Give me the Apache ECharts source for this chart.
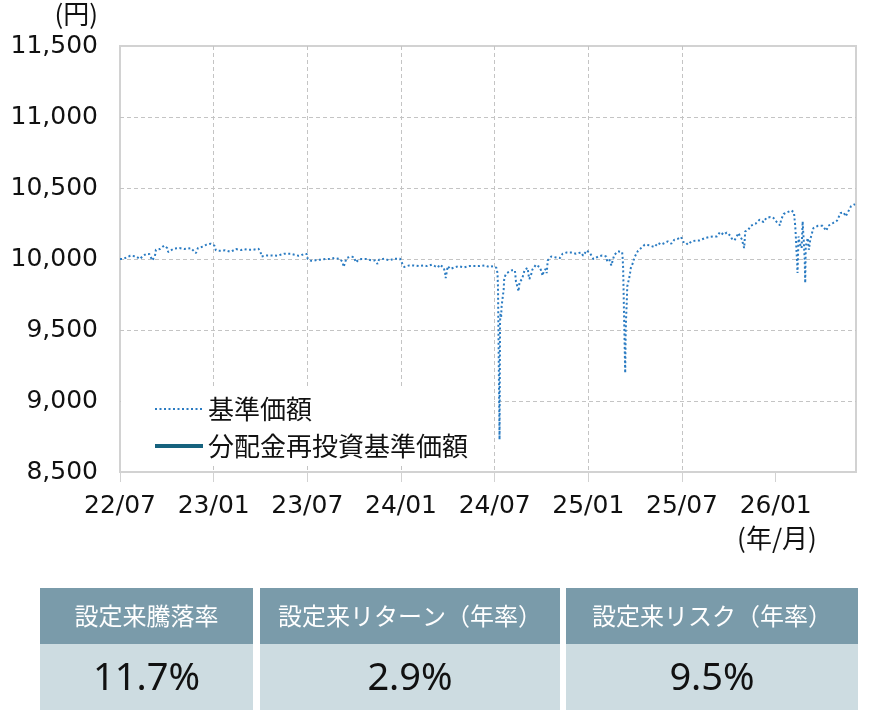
<!DOCTYPE html>
<html>
<head>
<meta charset="utf-8">
<script src="https://cdn.jsdelivr.net/npm/echarts@6/dist/echarts.min.js"></script>
<style>
html,body{margin:0;padding:0;background:#fff;}
#chart{width:870px;height:712px;}
</style>
</head>
<body>
<div id="chart"></div>
<script>
// ---- data ----
const seriesNames = ['基準価額', '分配金再投資基準価額'];
const xTickLabels = ['22/07', '23/01', '23/07', '24/01', '24/07', '25/01', '25/07', '26/01'];
const yTicks = [8500, 9000, 9500, 10000, 10500, 11000, 11500];
const startDate = '2022-07-27';
const endDate = '2026-07-01';
const dates = [
'2022-07-27','2022-08-02','2022-08-16','2022-08-27','2022-09-04','2022-09-10','2022-09-17','2022-09-22','2022-09-28','2022-10-03',
'2022-10-05','2022-10-13','2022-10-21','2022-10-27','2022-10-29','2022-11-08','2022-11-20','2022-11-29','2022-12-12','2022-12-22',
'2022-12-26','2023-01-04','2023-01-11','2023-01-20','2023-01-27','2023-01-30','2023-02-07','2023-02-17','2023-02-28','2023-03-10',
'2023-03-20','2023-03-26','2023-04-03','2023-04-12','2023-04-23','2023-04-27','2023-04-29','2023-05-09','2023-05-20','2023-05-31',
'2023-06-05','2023-06-12','2023-06-24','2023-07-02','2023-07-10','2023-07-15','2023-07-21','2023-07-26','2023-07-28','2023-08-03',
'2023-08-09','2023-08-16','2023-08-23','2023-09-01','2023-09-10','2023-09-18','2023-09-29','2023-10-04','2023-10-06','2023-10-09',
'2023-10-12','2023-10-19','2023-10-26','2023-10-30','2023-11-04','2023-11-10','2023-11-19','2023-11-30','2023-12-06','2023-12-11',
'2023-12-14','2023-12-24','2024-01-03','2024-01-12','2024-01-24','2024-01-26','2024-02-01','2024-02-11','2024-02-20','2024-03-01',
'2024-03-11','2024-03-17','2024-03-26','2024-04-01','2024-04-07','2024-04-10','2024-04-18','2024-04-21','2024-04-22','2024-04-26',
'2024-05-01','2024-05-09','2024-05-17','2024-05-28','2024-06-07','2024-06-17','2024-06-27','2024-07-07','2024-07-16','2024-07-24',
'2024-07-30','2024-08-01','2024-08-02','2024-08-05','2024-08-06','2024-08-07','2024-08-08','2024-08-09','2024-08-13','2024-08-14',
'2024-08-16','2024-08-19','2024-08-29','2024-09-04','2024-09-06','2024-09-09','2024-09-11','2024-09-13','2024-09-18','2024-09-23',
'2024-09-29','2024-09-30','2024-10-02','2024-10-05','2024-10-08','2024-10-15','2024-10-23','2024-10-28','2024-10-30','2024-11-03',
'2024-11-05','2024-11-07','2024-11-14','2024-11-23','2024-12-01','2024-12-06','2024-12-14','2024-12-24','2025-01-01','2025-01-11',
'2025-01-15','2025-01-22','2025-01-29','2025-02-04','2025-02-14','2025-02-21','2025-03-01','2025-03-03','2025-03-07','2025-03-11',
'2025-03-14','2025-03-17','2025-03-24','2025-04-01','2025-04-02','2025-04-03','2025-04-04','2025-04-07','2025-04-08','2025-04-09',
'2025-04-10','2025-04-11','2025-04-14','2025-04-16','2025-04-18','2025-04-22','2025-04-25','2025-04-28','2025-05-02','2025-05-08',
'2025-05-15','2025-05-24','2025-06-03','2025-06-10','2025-06-16','2025-06-23','2025-06-29','2025-07-06','2025-07-12','2025-07-19',
'2025-07-25','2025-07-29','2025-08-02','2025-08-07','2025-08-14','2025-08-24','2025-08-30','2025-09-02','2025-09-10','2025-09-18',
'2025-09-28','2025-10-03','2025-10-09','2025-10-16','2025-10-22','2025-10-29','2025-11-01','2025-11-06','2025-11-09','2025-11-14',
'2025-11-17','2025-11-21','2025-11-23','2025-11-25','2025-11-27','2025-12-03','2025-12-08','2025-12-17','2025-12-25','2026-01-02',
'2026-01-07','2026-01-15','2026-01-21','2026-01-28','2026-02-03','2026-02-05','2026-02-10','2026-02-16','2026-02-25','2026-03-02',
'2026-03-03','2026-03-04','2026-03-05','2026-03-06','2026-03-07','2026-03-08','2026-03-09','2026-03-11','2026-03-13','2026-03-17',
'2026-03-19','2026-03-20','2026-03-21','2026-03-23','2026-03-24','2026-03-25','2026-03-29','2026-03-31','2026-04-03','2026-04-09',
'2026-04-18','2026-04-27','2026-05-04','2026-05-08','2026-05-17','2026-05-25','2026-06-01','2026-06-07','2026-06-11','2026-06-14',
'2026-06-21','2026-06-29'
];
const navValues = [
10000,10000,10023,10018,10000,10023,10037,10035,9990,10018,
10065,10070,10094,10077,10049,10072,10077,10070,10077,10042,
10077,10087,10100,10108,10094,10061,10058,10061,10051,10070,
10063,10070,10065,10065,10072,10049,10018,10025,10025,10023,
10030,10037,10037,10030,10023,10025,10037,10035,10000,9988,
9988,9995,9995,10000,10000,10007,10000,9979,9944,9979,
10007,10016,10014,9976,9995,10000,10000,9990,9990,9965,
9995,10002,9990,10002,10002,9983,9944,9955,9955,9950,
9955,9950,9960,9950,9941,9960,9941,9901,9866,9950,
9930,9941,9950,9941,9950,9950,9950,9955,9944,9950,
9937,9901,9800,8728,9560,9620,9585,9666,9784,9854,
9882,9901,9920,9920,9842,9803,9772,9838,9859,9925,
9937,9901,9859,9882,9925,9960,9941,9882,9913,9930,
9901,9990,10018,10011,10007,10037,10046,10046,10037,10046,
10023,10061,10037,10000,10018,10025,10018,9983,9995,9955,
9995,10030,10054,10049,10007,9937,9749,9197,9490,9608,
9690,9807,9854,9889,9937,9972,10011,10025,10058,10077,
10101,10096,10084,10113,10101,10113,10124,10108,10136,10143,
10155,10120,10120,10101,10124,10131,10131,10124,10148,10155,
10159,10159,10190,10171,10187,10164,10143,10131,10117,10183,
10159,10136,10101,10077,10194,10206,10234,10248,10277,10260,
10289,10296,10289,10258,10237,10277,10317,10328,10342,10328,
10289,10253,10206,10136,10054,9995,9901,10159,10113,10077,
10265,10194,10136,9995,9831,10089,10148,10065,10141,10218,
10234,10234,10199,10234,10253,10270,10324,10328,10300,10312,
10370,10387
];
const reinvestValues = []; // 分配金再投資基準価額 (not visible in the reference)
const tableHeaders = ['設定来騰落率', '設定来リターン（年率）', '設定来リスク（年率）'];
const tableValues = ['11.7%', '2.9%', '9.5%'];

// ---- helpers ----
function toUTC(s){ const p = s.split('-').map(Number); return Date.UTC(p[0], p[1]-1, p[2]); }
const START = toUTC(startDate);
function dayOffset(s){ return (toUTC(s) - START) / 86400000; }
const HALF_YEAR = 182.625;
const xMax = dayOffset(endDate);
const tickValues = xTickLabels.map((_, i) => i * HALF_YEAR);

const NUM_FONT = '"DejaVu Sans", "Noto Sans CJK JP", sans-serif';
const JP_FONT = '"Noto Sans CJK JP", "DejaVu Sans", sans-serif';

const chart = echarts.init(document.getElementById('chart'), null, {renderer: 'canvas'});

// table graphics
const cells = [[40, 253], [260, 560], [566, 858]];
const tableGraphics = [];
cells.forEach((c, i) => {
  tableGraphics.push({type:'rect', shape:{x:c[0], y:588, width:c[1]-c[0], height:56}, style:{fill:'#7a9baa'}, silent:true});
  tableGraphics.push({type:'rect', shape:{x:c[0], y:644, width:c[1]-c[0], height:66}, style:{fill:'#cddce1'}, silent:true});
  tableGraphics.push({type:'text', x:(c[0]+c[1])/2, y:616, style:{text:tableHeaders[i], fill:'#ffffff', font:'24px ' + JP_FONT, textAlign:'center', textVerticalAlign:'middle'}, silent:true});
  tableGraphics.push({type:'text', x:(c[0]+c[1])/2, y:679, style:{text:tableValues[i], fill:'#111111', font:'38px "Noto Sans", sans-serif', textAlign:'center', textVerticalAlign:'middle'}, silent:true});
});

const option = {
  animation: false,
  backgroundColor: '#ffffff',
  grid: {left:120, right:14, top:46, bottom:240, show:true, borderColor:'#d2d2d2', borderWidth:2, backgroundColor:'transparent'},
  xAxis: {
    type:'value', min:0, max:xMax, interval:HALF_YEAR,
    axisLine:{show:false},
    axisTick:{show:true, length:10, lineStyle:{color:'#d2d2d2', width:1}, customValues: tickValues},
    axisLabel:{
      margin:22, fontSize:25, fontFamily:NUM_FONT, color:'#111',
      customValues: tickValues,
      formatter: function(v){ const i = Math.round(v / HALF_YEAR); return (Math.abs(v - i*HALF_YEAR) < 0.5 && xTickLabels[i]) ? xTickLabels[i] : ''; }
    },
    splitLine:{show:true, showMinLine:false, showMaxLine:false, lineStyle:{color:'#c4c4c4', width:1, type:[4,3]}}
  },
  yAxis: {
    type:'value', min:yTicks[0], max:yTicks[yTicks.length-1], interval:500,
    axisLine:{show:false}, axisTick:{show:false},
    axisLabel:{margin:22, fontSize:25, fontFamily:NUM_FONT, color:'#111', formatter: v => v.toLocaleString('en-US')},
    splitLine:{show:true, showMinLine:false, showMaxLine:false, lineStyle:{color:'#c4c4c4', width:1, type:[4,3]}}
  },
  legend: {
    orient:'vertical', left:121, top:388,
    itemWidth:48, itemHeight:14, itemGap:11,
    padding:[8,26,7,32],
    backgroundColor:'#ffffff',
    itemStyle:{opacity:0},
    textStyle:{fontSize:26, fontFamily:JP_FONT, color:'#111'},
    data: [
      {name: seriesNames[0], itemStyle:{opacity:0}, lineStyle:{width:2, type:[2,2.5], color:'#2a7bc2'}},
      {name: seriesNames[1], itemStyle:{opacity:0}, lineStyle:{width:4, type:'solid', color:'#16627e'}}
    ]
  },
  series: [
    {
      name: seriesNames[0], type:'line', symbol:'none', showSymbol:false,
      color:'#2a7bc2',
      lineStyle:{color:'#2a7bc2', width:2, type:[2,2.5]},
      data: dates.map((d, i) => [dayOffset(d), navValues[i]]),
      z: 3
    },
    {
      name: seriesNames[1], type:'line', symbol:'none', showSymbol:false,
      color:'#16627e',
      lineStyle:{color:'#16627e', width:4, type:'solid'},
      data: reinvestValues,
      z: 2
    }
  ],
  graphic: [
    {type:'text', x:98, y:14, style:{text:'(円)', fill:'#111', font:'26px ' + JP_FONT, textAlign:'right', textVerticalAlign:'middle'}, silent:true},
    {type:'text', x:777, y:538, style:{text:'(年/月)', fill:'#111', font:'26px ' + JP_FONT, textAlign:'center', textVerticalAlign:'middle'}, silent:true}
  ].concat(tableGraphics)
};
chart.setOption(option);
</script>
</body>
</html>
